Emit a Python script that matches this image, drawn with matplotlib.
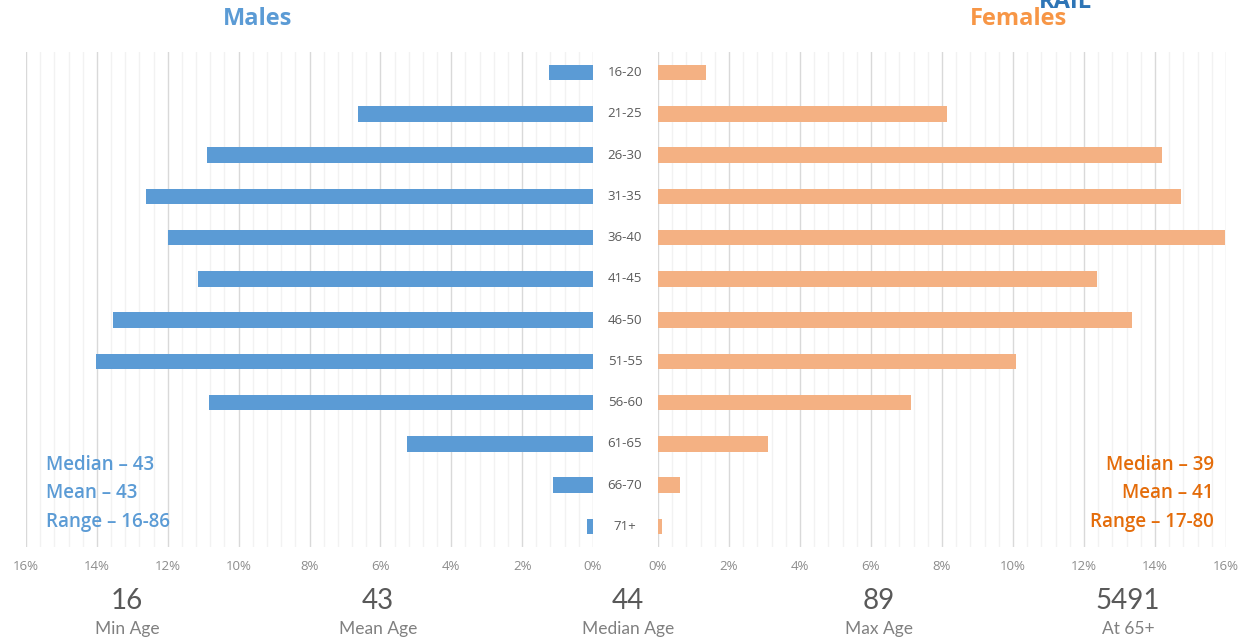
import matplotlib.pyplot as plt
from matplotlib.ticker import MultipleLocator, FuncFormatter

# ----------------------------------------------------------------------------------- #
#                                        Data                                         #
# ----------------------------------------------------------------------------------- #

age_groups = ['16-20', '21-25', '26-30', '31-35', '36-40', '41-45',
              '46-50', '51-55', '56-60', '61-65', '66-70', '71+']
males = [1.24, 6.62, 10.9, 12.6, 12.0, 11.15, 13.55, 14.03, 10.85, 5.24, 1.13, 0.17]
females = [1.35, 8.14, 14.2, 14.73, 15.97, 12.37, 13.35, 10.08, 7.13, 3.1, 0.62, 0.11]

male_stats = ['Median – 43', 'Mean – 43', 'Range – 16-86']
female_stats = ['Median – 39', 'Mean – 41', 'Range – 17-80']

summary_values = ['16', '43', '44', '89', '5491']
summary_labels = ['Min Age', 'Mean Age', 'Median Age', 'Max Age', 'At 65+']

BLUE = '#5B9BD5'
ORANGE = '#F4B183'
ORANGE_TXT = '#E46C0A'

# ----------------------------------------------------------------------------------- #
#                                        Plot                                         #
# ----------------------------------------------------------------------------------- #

plt.rcParams['font.family'] = ['Open Sans', 'DejaVu Sans']

fig = plt.figure(figsize=(12.58, 6.42), dpi=100)
ax_m = fig.add_axes([26 / 1258, 1 - 547 / 642, 567 / 1258, 495 / 642])
ax_f = fig.add_axes([658 / 1258, 1 - 547 / 642, 568 / 1258, 495 / 642])

y = list(range(len(age_groups)))
ax_m.barh(y, males, height=0.37, color=BLUE, zorder=3)
ax_f.barh(y, females, height=0.37, color=ORANGE, zorder=3)

for ax in (ax_m, ax_f):
    ax.set_ylim(len(age_groups) - 0.5, -0.5)
    ax.xaxis.set_major_locator(MultipleLocator(2))
    ax.xaxis.set_minor_locator(MultipleLocator(0.4))
    ax.xaxis.set_major_formatter(FuncFormatter(lambda v, p: f'{v:.0f}%'))
    ax.grid(which='major', axis='x', color='#d9d9d9', lw=1, zorder=0)
    ax.grid(which='minor', axis='x', color='#f2f2f2', lw=1, zorder=0)
    ax.set_yticks([])
    for s in ax.spines.values():
        s.set_visible(False)
    ax.tick_params(axis='x', which='both', length=0, labelsize=9.5,
                   labelcolor='#8c8c8c', pad=9)

ax_m.set_xlim(16, 0)
ax_f.set_xlim(0, 16)

# Category labels in the gap between the two halves
for i, g in enumerate(age_groups):
    ax_f.text(-0.93, i, g, ha='center', va='center', fontsize=9.5,
              color='#595959', clip_on=False)

# Titles
fig.text(258 / 1258, 1 - 19 / 642, 'Males', ha='center', va='center',
         fontsize=17, fontweight='bold', color=BLUE)
fig.text(1018 / 1258, 1 - 19 / 642, 'Females', ha='center', va='center',
         fontsize=17, fontweight='bold', color='#F79646')
fig.text(1065 / 1258, 1 - 2 / 642, 'RAIL', ha='center', va='center',
         fontsize=17, fontweight='bold', color='#2E75B6')

# Per-sex summary stats
for i, s in enumerate(male_stats):
    fig.text(46 / 1258, 1 - (465 + 28.5 * i) / 642, s, ha='left', va='center',
             fontsize=13.5, fontweight='semibold', color=BLUE)
for i, s in enumerate(female_stats):
    fig.text(1214 / 1258, 1 - (465 + 28.5 * i) / 642, s, ha='right', va='center',
             fontsize=13.5, fontweight='semibold', color=ORANGE_TXT)

# Bottom summary
xs = [127, 378, 628, 879, 1128]
for x, v, l in zip(xs, summary_values, summary_labels):
    fig.text(x / 1258, 1 - 601 / 642, v, ha='center', va='center',
             fontsize=20, color='#595959', family=['Lato', 'DejaVu Sans'])
    fig.text(x / 1258, 1 - 629 / 642, l, ha='center', va='center',
             fontsize=12.5, color='#808080',
             family=['Lato', 'DejaVu Sans'])

plt.savefig('out.png', dpi=100)
